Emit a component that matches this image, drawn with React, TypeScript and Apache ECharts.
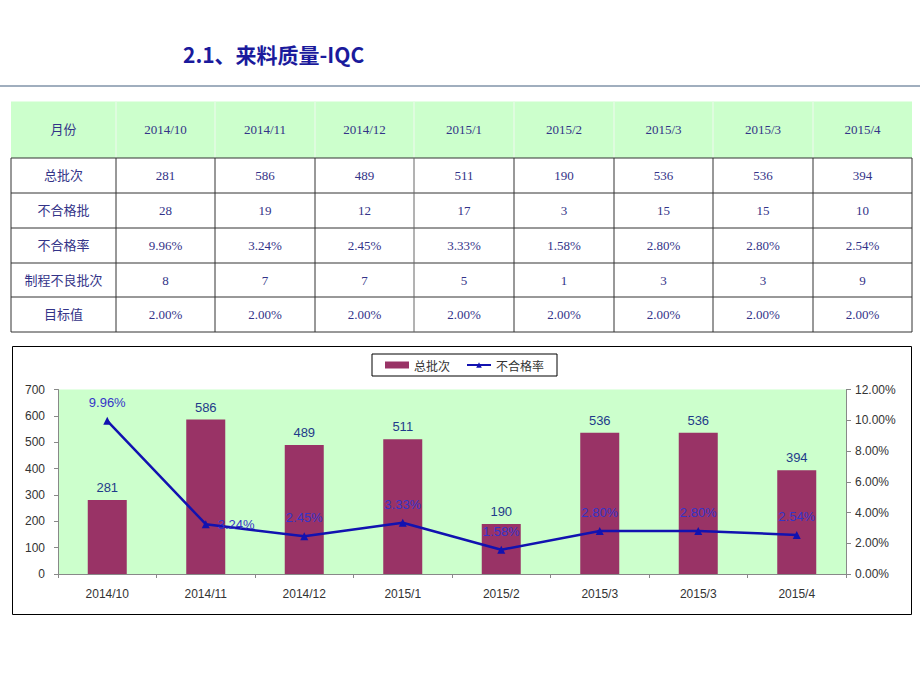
import { useEffect, useRef } from 'react';
import * as echarts from 'echarts';

const months = ['2014/10', '2014/11', '2014/12', '2015/1', '2015/2', '2015/3', '2015/3', '2015/4'];
const totalBatches = [281, 586, 489, 511, 190, 536, 536, 394];
const failedBatches = [28, 19, 12, 17, 3, 15, 15, 10];
const failRate = [9.96, 3.24, 2.45, 3.33, 1.58, 2.8, 2.8, 2.54];
const processFail = [8, 7, 7, 5, 1, 3, 3, 9];
const targetRate = [2, 2, 2, 2, 2, 2, 2, 2];
const rowHeaders = ['月份', '总批次', '不合格批', '不合格率', '制程不良批次', '目标值'];
const titleText = '2.1、来料质量-IQC';

const pct = (v: number) => v.toFixed(2) + '%';

// table layout
const colX = [11, 116, 215, 315, 414, 514, 614, 713, 813, 912];
const rowY = [101.5, 158, 193, 228, 263, 297, 332];
const tableFont = '"Liberation Serif", "Noto Sans CJK SC", serif';
const tableColor = '#333388';

function buildTable(): any[] {
  const rows: string[][] = [
    months,
    totalBatches.map(String),
    failedBatches.map(String),
    failRate.map(pct),
    processFail.map(String),
    targetRate.map(pct),
  ];
  const els: any[] = [];
  els.push({
    type: 'rect',
    shape: { x: colX[0], y: rowY[0], width: colX[9] - colX[0], height: rowY[1] - rowY[0] },
    style: { fill: '#ccffcc' },
    silent: true,
  });
  for (let i = 1; i < colX.length - 1; i++) {
    els.push({
      type: 'line',
      shape: { x1: colX[i], y1: rowY[0], x2: colX[i], y2: rowY[1] },
      style: { stroke: '#e4fbe4', lineWidth: 1.5 },
      silent: true,
    });
  }
  for (let r = 1; r < rowY.length; r++) {
    const thick = r === 4;
    els.push({
      type: 'line',
      shape: { x1: colX[0], y1: rowY[r], x2: colX[9], y2: rowY[r] },
      style: { stroke: thick ? '#777' : '#333', lineWidth: thick ? 1.6 : 1 },
      silent: true,
    });
  }
  for (let c = 0; c < colX.length; c++) {
    els.push({
      type: 'line',
      shape: { x1: colX[c], y1: rowY[1], x2: colX[c], y2: rowY[6] },
      style: { stroke: c === 4 ? '#666' : '#333', lineWidth: 1 },
      silent: true,
    });
  }
  for (let r = 0; r < rows.length; r++) {
    const cy = (rowY[r] + rowY[r + 1]) / 2;
    const cells = [rowHeaders[r], ...rows[r]];
    for (let c = 0; c < cells.length; c++) {
      const cx = (colX[c] + colX[c + 1]) / 2;
      els.push({
        type: 'text',
        x: cx,
        y: cy,
        style: {
          text: cells[c],
          fill: tableColor,
          fontSize: 13,
          fontFamily: tableFont,
          align: 'center',
          verticalAlign: 'middle',
        },
        silent: true,
      });
    }
  }
  return els;
}

export default function App() {
  const ref = useRef<HTMLDivElement>(null);
  useEffect(() => {
    if (!ref.current) return;
    const chart = echarts.init(ref.current, undefined, { renderer: 'svg' });
    const lineData = failRate.map((v, i) =>
      i === 1 ? { value: v, label: { position: 'right', distance: 8 } } : v
    );
    const axisGray = '#888';
    chart.setOption({
      animation: false,
      backgroundColor: '#ffffff',
      title: {
        text: titleText,
        left: 183,
        top: 43,
        padding: 0,
        textStyle: {
          fontSize: 21,
          fontWeight: 'bold',
          color: '#1a1a9c',
          fontFamily: '"Noto Sans CJK SC", sans-serif',
        },
      },
      legend: {
        left: 372,
        top: 354,
        orient: 'horizontal',
        borderColor: '#000',
        borderWidth: 1,
        padding: [5, 13],
        itemWidth: 24,
        itemHeight: 7,
        itemGap: 16,
        textStyle: { fontSize: 12, color: '#333', fontFamily: '"Noto Sans CJK SC", sans-serif' },
        data: [{ name: '总批次', icon: 'rect' }, { name: '不合格率' }],
      },
      grid: {
        left: 58,
        right: 74,
        top: 389.5,
        bottom: 116,
        show: true,
        backgroundColor: '#ccffcc',
        borderWidth: 0,
      },
      xAxis: {
        type: 'category',
        data: months,
        boundaryGap: true,
        axisLine: { lineStyle: { color: axisGray } },
        axisTick: { show: true, length: 4, lineStyle: { color: axisGray } },
        axisLabel: {
          interval: 0,
          color: '#333',
          fontSize: 12,
          fontFamily: '"Liberation Sans", Arial, sans-serif',
          margin: 14,
        },
      },
      yAxis: [
        {
          type: 'value',
          min: 0,
          max: 700,
          interval: 100,
          axisLine: { show: true, lineStyle: { color: axisGray } },
          axisTick: { show: true, length: 4, lineStyle: { color: axisGray } },
          splitLine: { show: false },
          axisLabel: {
            color: '#333',
            fontSize: 12,
            fontFamily: '"Liberation Sans", Arial, sans-serif',
            margin: 13,
          },
        },
        {
          type: 'value',
          position: 'right',
          min: 0,
          max: 12,
          interval: 2,
          axisLine: { show: true, lineStyle: { color: axisGray } },
          axisTick: { show: true, length: 5, lineStyle: { color: axisGray } },
          splitLine: { show: false },
          axisLabel: {
            color: '#333',
            fontSize: 12,
            fontFamily: '"Liberation Sans", Arial, sans-serif',
            margin: 9,
            formatter: (v: number) => pct(v),
          },
        },
      ],
      series: [
        {
          name: '总批次',
          type: 'bar',
          data: totalBatches,
          barWidth: 39,
          itemStyle: { color: '#993366' },
          label: {
            show: true,
            position: 'top',
            distance: 6,
            color: '#1f3b8a',
            fontSize: 13,
            fontFamily: '"Liberation Sans", Arial, sans-serif',
          },
        },
        {
          name: '不合格率',
          type: 'line',
          yAxisIndex: 1,
          data: lineData,
          symbol: 'triangle',
          symbolSize: 8,
          lineStyle: { width: 2.5, color: '#1212b0' },
          itemStyle: { color: '#1212b0' },
          label: {
            show: true,
            position: 'top',
            distance: 8,
            color: '#3535c8',
            fontSize: 13,
            fontFamily: '"Liberation Sans", Arial, sans-serif',
            formatter: (p: any) => pct(Number(p.value)),
          },
        },
      ],
      graphic: {
        elements: [
          {
            type: 'line',
            shape: { x1: 0, y1: 86, x2: 920, y2: 86 },
            style: { stroke: '#8193a8', lineWidth: 1.5 },
            silent: true,
          },
          ...buildTable(),
          {
            type: 'rect',
            shape: { x: 12.5, y: 346.5, width: 899, height: 268 },
            style: { fill: 'none', stroke: '#000', lineWidth: 1 },
            silent: true,
          },
        ],
      },
    });
    return () => chart.dispose();
  }, []);
  return (
    <div
      ref={ref}
      style={{ position: 'absolute', left: 0, top: 0, width: 920, height: 690, background: '#fff' }}
    />
  );
}
